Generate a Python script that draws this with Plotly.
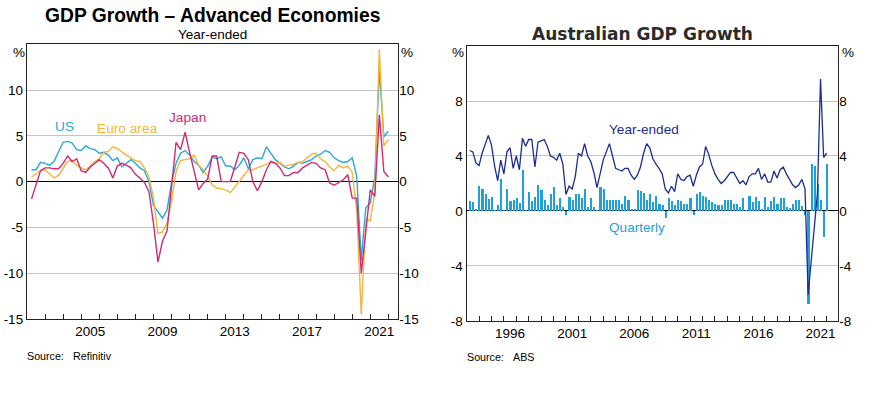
import plotly.graph_objects as go

# ---------------- Data: left chart (year-ended %, quarterly 2002 Q1 - 2021 Q4) ----------------
left_start_year = 2002
us = [1.3, 1.3, 2.1, 2.0,  1.8, 2.2, 3.3, 4.3,  4.4, 4.2, 3.5, 3.4,  3.9, 3.6, 3.5, 3.1,
      3.2, 2.9, 2.3, 2.6,  1.6, 2.0, 2.4, 2.0,  1.5, 1.2, 0.0, -2.6, -3.3, -4.0, -3.1, -0.1,
      2.0, 3.1, 3.4, 2.9,  2.2, 1.8, 1.0, 1.7,  2.7, 2.5, 2.7, 1.7,  1.7, 1.3, 1.8, 2.6,
      1.4, 2.4, 2.6, 2.5,  3.8, 3.1, 2.4, 2.0,  1.6, 1.4, 1.7, 2.1,  2.0, 2.2, 2.4, 2.8,
      3.0, 3.4, 3.2, 2.6,  2.3, 2.1, 2.2, 2.6,  0.6, -8.6, -2.9, -2.3,  0.5, 12.2, 4.9, 5.5]
euro = [0.5, 0.9, 1.2, 1.3,  0.9, 0.4, 0.7, 1.4,  2.2, 2.3, 1.8, 1.5,  1.3, 1.7, 2.2, 2.5,
        3.2, 3.3, 3.8, 3.6,  3.2, 2.9, 2.6, 2.3,  2.2, 1.5, 0.5, -1.8, -5.7, -5.5, -4.5, -2.1,
        1.1, 2.3, 2.4, 2.5,  2.9, 1.8, 1.3, 0.6,  -0.4, -0.7, -0.8, -0.9,  -1.2, -0.6, 0.0, 0.6,
        1.3, 1.3, 1.5, 1.7,  1.9, 2.2, 2.0, 2.1,  1.7, 1.8, 1.9, 2.1,  2.2, 2.6, 3.0, 3.1,
        2.5, 2.2, 1.6, 1.2,  1.8, 1.5, 1.7, 1.0,  -3.1, -14.5, -4.1, -4.3,  -1.1, 14.5, 3.9, 4.6]
japan = [-1.9, -0.3, 1.2, 1.5,  1.5, 1.4, 1.4, 2.0,  2.8, 2.2, 2.5, 1.2,  1.0, 1.6, 2.0, 2.4,
         2.0, 1.5, 0.4, 1.7,  2.0, 1.8, 1.5, 0.8,  0.4, -0.1, -1.1, -4.6,  -8.8, -6.5, -5.4, -0.5,
         4.3, 3.5, 5.4, 3.2,  1.0, -0.9, -0.2, 0.3,  2.8, 2.8, 0.0, 0.0,  0.0, 1.6, 3.2, 3.1,
         2.4, 0.0, -1.0, 0.0,  1.3, 2.2, 2.0, 1.5,  0.65, 0.65, 1.0, 1.0,  1.5, 1.8, 2.1, 2.0,
         1.5, 1.3, -0.15, -0.4,  -0.1, 0.2, 0.75, -1.8,  -1.8, -10.0, -5.5, -0.9,  -1.6, 7.3, 1.1, 0.5]
left_label_years = [2005, 2009, 2013, 2017, 2021]
left_y_ticks = [-15, -10, -5, 0, 5, 10]
left_y_text = ["-15", "-10", "-5", "0", "5", "10"]

# ---------------- Data: right chart (Australia, quarterly 1993 Q1 - 2021 Q4) ----------------
right_start_year = 1993
aus_quarterly = [0.73, 0.63, 0.08, 1.8,  1.6, 1.2, 0.85, 1.0,  0.05, 0.4, 2.35, 0.05,
                 1.6, 0.73, 0.8, 0.9,  0.6, 3.0, 0.05, 1.4,  0.73, 1.0, 1.9, 1.5,
                 0.8, 0.4, 1.2, 1.7,  0.4, 0.9, 0.3, -0.3,  1.0, 0.8, 1.2, 1.2,
                 0.9, 1.6, 0.3, 0.9,  0.3, 0.05, 1.7, 1.6,  0.8, 0.8, 0.8, 0.78,
                 0.8, 0.5, 1.1, 0.8,  0.15, 0.15, 1.55, 1.45,  1.3, 0.8, 1.2, 0.65,
                 1.05, 0.5, 0.45, -0.5,  0.9, 0.7, 0.4, 0.8,  0.7, 0.5, 0.5, 0.9,
                 -0.3, 1.25, 1.4, 1.1,  1.0, 0.8, 0.65, 0.5,  0.4, 0.4, 0.8, 0.8,
                 0.8, 0.5, 0.5, 0.3,  0.9, 0.05, 1.1, 0.65,  1.0, 0.7, 0.15, 1.0,
                 0.3, 0.7, 1.0, 0.5,  0.9, 0.9, 0.3, 0.2,  0.5, 0.8, 0.8, 0.35,
                 -0.3, -6.8, 3.4, 3.25,  1.95, 0.8, -1.9, 3.4]
aus_year_ended = [4.4, 4.3, 3.5, 3.3,  4.2, 4.8, 5.5, 4.8,  3.3, 2.2, 3.7, 2.7,
                  4.3, 4.6, 3.1, 4.0,  3.0, 5.3, 4.7, 5.2,  5.2, 3.2, 5.0, 5.1,
                  5.2, 4.7, 4.0, 3.9,  3.7, 4.2, 3.4, 1.2,  1.8, 1.6, 2.5, 4.2,
                  4.0, 4.9, 4.0, 3.6,  2.8, 1.7, 2.7, 3.7,  4.3, 4.9, 4.0, 3.1,
                  3.0, 2.9, 3.1, 3.1,  2.6, 2.3, 2.6, 3.2,  4.2, 4.9, 4.6, 3.8,
                  3.4, 3.1, 2.7, 1.6,  1.3, 1.8, 1.4, 2.7,  2.3, 2.2, 2.5, 2.6,
                  1.8, 2.6, 3.2, 3.4,  4.7, 4.1, 3.3, 2.7,  2.3, 2.0, 2.2, 2.5,
                  2.8, 2.8, 2.4, 2.0,  2.2, 1.9, 2.5, 2.7,  2.7, 3.1, 2.3, 2.7,
                  2.1, 2.1, 2.9, 2.4,  3.0, 3.2, 2.7, 2.3,  1.9, 1.7, 1.9, 2.3,
                  1.6, -6.1, -3.7, -0.9,  1.3, 9.6, 3.9, 4.2]
right_label_years = [1996, 2001, 2006, 2011, 2016, 2021]
right_y_ticks = [-8, -4, 0, 4, 8]
right_y_text = ["-8", "-4", "0", "4", "8"]

# quarter-end positions (decimal years)
left_x = [left_start_year + (k + 1) / 4 for k in range(len(us))]
right_x = [right_start_year + (k + 1) / 4 for k in range(len(aus_quarterly))]

# ---------------- Styling ----------------
W, H = 873, 399
H_EFF = 390  # effective vertical extent observed in the rendered page
FONT = "Liberation Sans, Arial, sans-serif"
C_US = "#29a8de"
C_EURO = "#f6b53a"
C_JAPAN = "#cf2a74"
C_NAVY = "#1c2d92"
C_BAR = "#1ea0da"
FRAME = "#222222"
GRID = "#c4c4c4"


def px(x):
    return x / W


def py(y):
    return 1 - y / H_EFF


fig = go.Figure()

fig.add_trace(go.Scatter(x=left_x, y=us, mode="lines", line=dict(color=C_US, width=1.4),
                         xaxis="x", yaxis="y", hoverinfo="skip"))
fig.add_trace(go.Scatter(x=left_x, y=euro, mode="lines", line=dict(color=C_EURO, width=1.4),
                         xaxis="x", yaxis="y", hoverinfo="skip"))
fig.add_trace(go.Scatter(x=left_x, y=japan, mode="lines", line=dict(color=C_JAPAN, width=1.4),
                         xaxis="x", yaxis="y", hoverinfo="skip"))

fig.add_trace(go.Bar(x=right_x, y=aus_quarterly, width=0.17, marker=dict(color=C_BAR, line=dict(width=0)),
                     xaxis="x3", yaxis="y3", hoverinfo="skip"))
fig.add_trace(go.Scatter(x=right_x, y=aus_year_ended, mode="lines", line=dict(color=C_NAVY, width=1.3),
                         xaxis="x3", yaxis="y3", hoverinfo="skip"))

tickfont = dict(family=FONT, size=13.5, color="#000")

common_x = dict(showgrid=False, zeroline=False, showline=True, linecolor=FRAME, linewidth=1.3,
                mirror=True, ticks="", tickfont=tickfont, fixedrange=True)
common_y = dict(showgrid=True, gridcolor=GRID, gridwidth=1.2, zeroline=True, zerolinecolor="#000",
                zerolinewidth=1.3, showline=True, linecolor=FRAME, linewidth=1.3, mirror=True,
                ticks="", tickfont=tickfont, fixedrange=True)

left_dom_x = [px(27), px(398.3)]
right_dom_x = [px(466.6), px(838.3)]
left_dom_y = [py(318), py(44.3)]
right_dom_y = [py(320), py(46)]

fig.update_layout(
    width=W, height=H, autosize=False,
    margin=dict(l=0, r=0, t=0, b=0),
    paper_bgcolor="white", plot_bgcolor="white",
    showlegend=False, bargap=0,
    xaxis=dict(common_x, domain=left_dom_x, range=[2002.0, 2022.55], anchor="y",
               tickmode="array", tickvals=[y + 0.5 for y in left_label_years],
               ticktext=[str(y) for y in left_label_years],
               minor=dict(tickmode="array", tickvals=list(range(2003, 2023)), ticks="inside",
                          ticklen=5, tickwidth=1.2, tickcolor=FRAME, showgrid=False)),
    yaxis=dict(common_y, domain=left_dom_y, range=[-15, 15], anchor="x",
               tickmode="array", tickvals=left_y_ticks, ticktext=left_y_text),
    yaxis2=dict(domain=left_dom_y, range=[-15, 15], overlaying="y", side="right", anchor="x",
                showgrid=False, zeroline=False, showline=False, ticks="", tickfont=tickfont,
                tickmode="array", tickvals=left_y_ticks, ticktext=left_y_text, fixedrange=True),
    xaxis3=dict(common_x, domain=right_dom_x, range=[1993.0, 2022.93], anchor="y3",
                tickmode="array", tickvals=[y + 0.5 for y in right_label_years],
                ticktext=[str(y) for y in right_label_years],
                minor=dict(tickmode="array", tickvals=list(range(1994, 2023)), ticks="inside",
                           ticklen=5, tickwidth=1.2, tickcolor=FRAME, showgrid=False)),
    yaxis3=dict(common_y, domain=right_dom_y, range=[-8, 12], anchor="x3",
                tickmode="array", tickvals=right_y_ticks, ticktext=right_y_text),
    yaxis4=dict(domain=right_dom_y, range=[-8, 12], overlaying="y3", side="right", anchor="x3",
                showgrid=False, zeroline=False, showline=False, ticks="", tickfont=tickfont,
                tickmode="array", tickvals=right_y_ticks, ticktext=right_y_text, fixedrange=True),
)

# dummy traces so the overlay axes render
fig.add_trace(go.Scatter(x=[None], y=[None], xaxis="x", yaxis="y2", showlegend=False, hoverinfo="skip"))
fig.add_trace(go.Scatter(x=[None], y=[None], xaxis="x3", yaxis="y4", showlegend=False, hoverinfo="skip"))


def ann(text, x, y, size, color="#000", family=FONT, xanchor="center", bold=False):
    if bold:
        text = "<b>" + text + "</b>"
    fig.add_annotation(text=text, x=px(x), y=py(y), xref="paper", yref="paper",
                       xanchor=xanchor, yanchor="middle", showarrow=False,
                       font=dict(family=family, size=size, color=color))


# titles
ann("GDP Growth – Advanced Economies", 212, 15, 19.3, bold=True)
ann("Year-ended", 212.5, 34, 13.5)
ann("Australian GDP Growth", 642.5, 34, 17, color="#2b2b2b", family="DejaVu Sans, Verdana, sans-serif", bold=True)

# % unit labels
ann("%", 18.5, 52, 13.5)
ann("%", 407, 52, 13.5)
ann("%", 458, 52.7, 13.5)
ann("%", 847.5, 52.7, 13.5)

# series labels
ann("US", 64, 126, 13.7, color=C_US)
ann("Euro area", 127, 128, 13.7, color=C_EURO)
ann("Japan", 187, 117, 13.7, color=C_JAPAN)
ann("Year-ended", 644, 129, 13.6, color=C_NAVY)
ann("Quarterly", 637, 227, 13.6, color=C_BAR)

# sources
ann("Source:", 25, 355, 10.7, xanchor="left")
ann("Refinitiv", 71, 355, 10.7, xanchor="left")
ann("Source:", 465, 356, 10.7, xanchor="left")
ann("ABS", 511, 356, 10.7, xanchor="left")

post = ("document.documentElement.style.margin='0';document.body.style.margin='0';"
        "document.documentElement.style.overflow='hidden';document.body.style.overflow='hidden';")

fig.write_html("out.html", config={"displayModeBar": False}, post_script=post)
